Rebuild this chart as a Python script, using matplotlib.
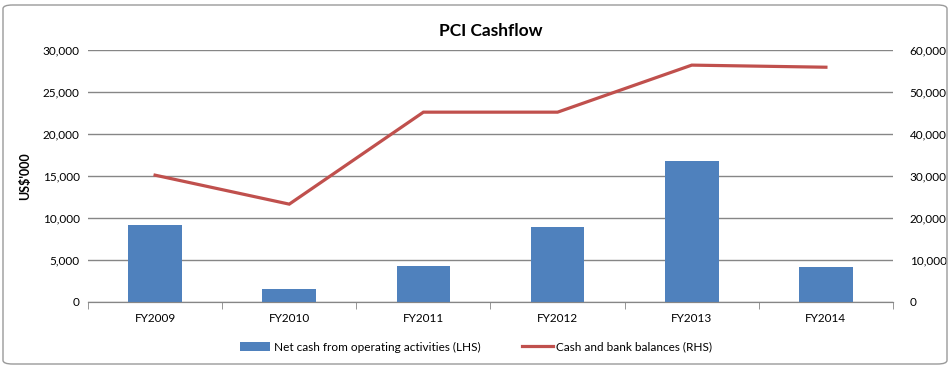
import numpy as np
import matplotlib.pyplot as plt
from matplotlib.patches import FancyBboxPatch
from matplotlib.ticker import FuncFormatter

plt.rcParams['font.family'] = ['Lato', 'DejaVu Sans']

# --- data ---
years = ["FY2009", "FY2010", "FY2011", "FY2012", "FY2013", "FY2014"]
net_cash = [9150, 1550, 4300, 8930, 16800, 4170]        # LHS, US$'000
cash_bank = [30200, 23300, 45200, 45200, 56400, 55900]  # RHS, US$'000

bar_col = '#4F81BD'
line_col = '#C0504D'
grid_col = '#868686'

fig = plt.figure(figsize=(9.52, 3.68), dpi=100)
ax = fig.add_axes([88/952, 66/368, (893-88)/952, 252/368])
ax2 = ax.twinx()

x = np.arange(len(years))
ax.bar(x, net_cash, width=0.4, color=bar_col, zorder=3,
       label="Net cash from operating activities (LHS)")
ax2.plot(x, cash_bank, color=line_col, lw=2.3, solid_joinstyle='miter',
         label="Cash and bank balances (RHS)")

ax.set_xlim(-0.5, len(years) - 0.5)
ax.set_ylim(0, 30000)
ax2.set_ylim(0, 60000)
ax.set_yticks(np.arange(0, 30001, 5000))
ax2.set_yticks(np.arange(0, 60001, 10000))
fmt = FuncFormatter(lambda v, p: f"{int(v):,}")
ax.yaxis.set_major_formatter(fmt)
ax2.yaxis.set_major_formatter(fmt)

ax.grid(axis='y', color=grid_col, lw=1.0, zorder=0)
ax.set_axisbelow(True)

for a in (ax, ax2):
    for s in ('top', 'left', 'right'):
        a.spines[s].set_visible(False)
    a.spines['bottom'].set_color(grid_col)
    a.tick_params(axis='y', length=0, labelsize=8.5, colors='black')
ax.tick_params(axis='y', pad=6)
ax2.tick_params(axis='y', pad=12)

# category labels centred, tick marks between categories
ax.set_xticks(x)
ax.set_xticklabels(years, fontsize=8.5)
ax.tick_params(axis='x', length=0, pad=8)
ax.set_xticks(np.arange(-0.5, len(years)), minor=True)
ax.tick_params(axis='x', which='minor', length=5, color=grid_col, direction='out')

ax.set_ylabel("US$'000", fontsize=9, fontweight='bold', labelpad=8)
ax.set_title("PCI Cashflow", fontsize=12.5, fontweight='bold', pad=10)

h1, l1 = ax.get_legend_handles_labels()
h2, l2 = ax2.get_legend_handles_labels()
fig.legend(h1 + h2, l1 + l2, loc='center', bbox_to_anchor=(0.5, 21/368),
           ncol=2, frameon=False, fontsize=8.5, handlelength=2.6,
           handletextpad=0.3, columnspacing=3.5)

# chart border
border = FancyBboxPatch((3/952, 4/368), 944/952, 359/368,
                        boxstyle="round,pad=0,rounding_size=0.01",
                        transform=fig.transFigure, fill=False,
                        edgecolor='#9a9a9a', lw=1.0)
fig.patches.append(border)

fig.savefig('out.png', dpi=100)
